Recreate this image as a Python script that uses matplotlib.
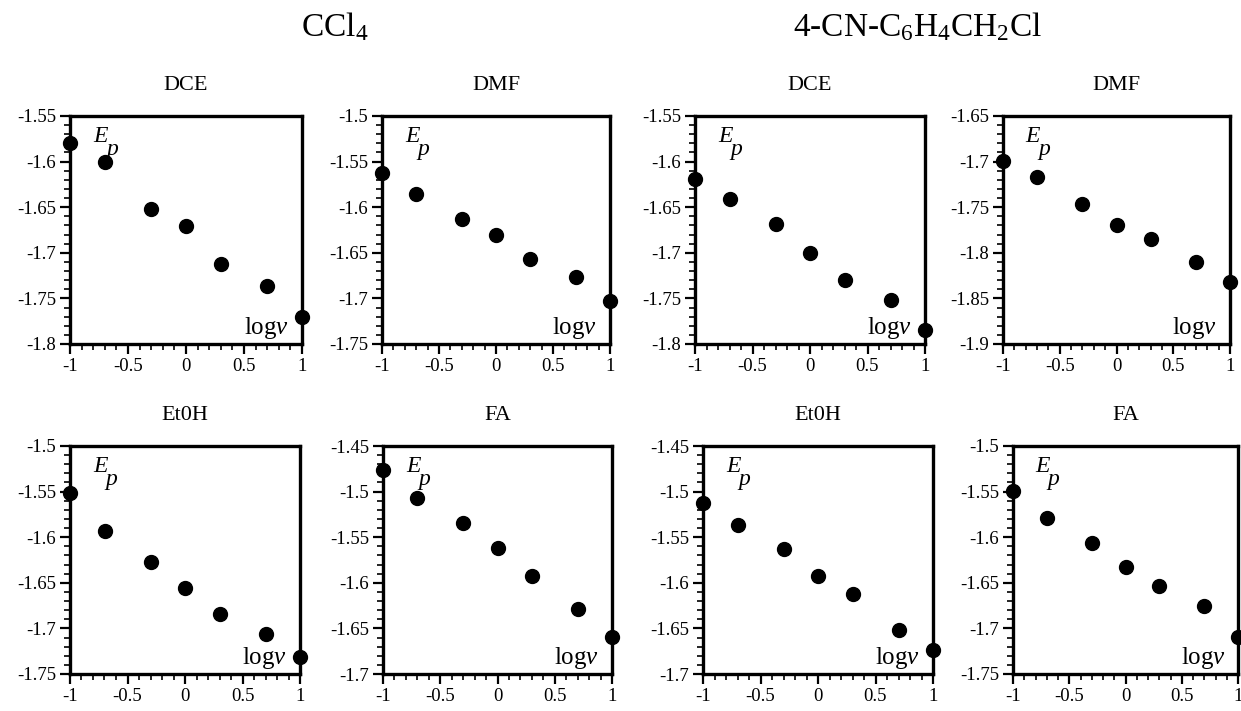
import matplotlib
matplotlib.use("Agg")
import matplotlib.pyplot as plt
from matplotlib.ticker import MultipleLocator, FuncFormatter

plt.rcParams['font.family'] = ['Liberation Serif', 'DejaVu Serif']
plt.rcParams['mathtext.fontset'] = 'custom'
plt.rcParams['mathtext.rm'] = 'Liberation Serif'
plt.rcParams['mathtext.it'] = 'Liberation Serif:italic'
plt.rcParams['axes.unicode_minus'] = False

logv = [-1, -0.7, -0.3, 0, 0.3, 0.7, 1]

# CCl4
ccl4_dce = [-1.580, -1.600, -1.652, -1.671, -1.712, -1.736, -1.770]
ccl4_dmf = [-1.563, -1.585, -1.613, -1.631, -1.657, -1.676, -1.703]
ccl4_etoh = [-1.552, -1.593, -1.627, -1.656, -1.684, -1.706, -1.731]
ccl4_fa = [-1.476, -1.507, -1.534, -1.562, -1.593, -1.629, -1.659]
# 4-CN-C6H4CH2Cl
cn_dce = [-1.619, -1.641, -1.668, -1.700, -1.730, -1.752, -1.785]
cn_dmf = [-1.699, -1.717, -1.746, -1.769, -1.785, -1.810, -1.832]
cn_etoh = [-1.513, -1.537, -1.563, -1.593, -1.612, -1.652, -1.674]
cn_fa = [-1.549, -1.579, -1.606, -1.633, -1.654, -1.675, -1.709]

panel_titles = ["DCE", "DMF", "DCE", "DMF", "Et0H", "FA", "Et0H", "FA"]
panel_data = [ccl4_dce, ccl4_dmf, cn_dce, cn_dmf, ccl4_etoh, ccl4_fa, cn_etoh, cn_fa]
y_limits = [(-1.8, -1.55), (-1.75, -1.5), (-1.8, -1.55), (-1.9, -1.65),
            (-1.75, -1.5), (-1.7, -1.45), (-1.7, -1.45), (-1.75, -1.5)]
group_titles = ["CCl$_4$", "4-CN-C$_6$H$_4$CH$_2$Cl"]

W, H = 1241, 711
fig = plt.figure(figsize=(W / 100, H / 100), dpi=100)

# pixel boxes (left, right, top, bottom)
boxes = [(70, 302, 116, 344), (382, 610, 116, 344), (695, 925, 116, 344), (1003, 1230, 116, 344),
         (70, 300, 446, 674), (383, 612, 446, 674), (703, 933, 446, 674), (1013, 1238, 446, 674)]

fmt = FuncFormatter(lambda v, p: ("%g" % round(v, 3)))

for i, (l, r, t, b) in enumerate(boxes):
    ax = fig.add_axes([l / W, 1 - b / H, (r - l) / W, (b - t) / H])
    ax.plot(logv, panel_data[i], 'o', color='black', markersize=10, clip_on=False, zorder=5)
    ax.set_xlim(-1, 1)
    ax.set_ylim(*y_limits[i])
    ax.xaxis.set_major_locator(MultipleLocator(0.5))
    ax.xaxis.set_minor_locator(MultipleLocator(0.1))
    ax.yaxis.set_major_locator(MultipleLocator(0.05))
    ax.yaxis.set_minor_locator(MultipleLocator(0.01))
    ax.xaxis.set_major_formatter(fmt)
    ax.yaxis.set_major_formatter(fmt)
    for s in ax.spines.values():
        s.set_linewidth(2.4)
    ax.tick_params(which='both', direction='out', top=False, right=False, labelsize=13.5)
    ax.tick_params(which='major', length=7, width=1.6, pad=3)
    ax.tick_params(which='minor', length=4, width=1.2)
    ax.set_title(panel_titles[i], fontsize=16, pad=19)
    ax.text(0.10, 0.955, 'E', transform=ax.transAxes, fontsize=17, style='italic',
            va='top', ha='left')
    ax.text(0.155, 0.90, 'p', transform=ax.transAxes, fontsize=17, style='italic',
            va='top', ha='left')
    ax.text(0.945, 0.045, r'log$v$', transform=ax.transAxes, fontsize=18,
            va='baseline', ha='right')

fig.text(335 / W, 1 - 27 / H, group_titles[0], fontsize=24, ha='center', va='center')
fig.text(918 / W, 1 - 27 / H, group_titles[1], fontsize=24, ha='center', va='center')

fig.savefig("out.png", dpi=100)
